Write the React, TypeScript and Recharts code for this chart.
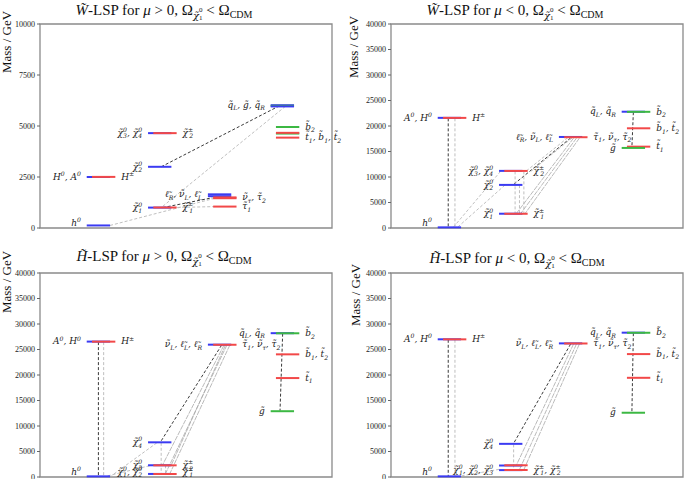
import React from 'react';
import { ComposedChart, Line, XAxis, YAxis, ReferenceArea, Scatter } from 'recharts';

const T = '\u0303';
const CHI = `\u03C7${T}`;
const SL = `\u2113${T}`;
const SNU = `\u03BD${T}`;
const STAU = `\u03C4${T}`;
const SQ = `q${T}`;
const SG = `g${T}`;
const ST = `t${T}`;
const SB = `b${T}`;

type Level = { col: number; s: number; m: number; k: string; l?: string; r?: string };
type Decay = { x1: number; m1: number; x2: number; m2: number; tone: string };

// column starts in the x-domain [0,100]
const COL_X = [16, 37, 57.5, 79];
const SEG = 8;
const SHIFT = 1.8;

const ticks10k = [0, 2500, 5000, 7500, 10000];
const ticks40k = [0, 5000, 10000, 15000, 20000, 25000, 30000, 35000, 40000];

// ---------- W-LSP, mu > 0 ----------
const wPosLevels: Level[] = [
  { col: 0, s: 0, m: 125, k: 'B', l: 'h^0' },
  { col: 0, s: 0, m: 2500, k: 'B', l: 'H^0, A^0' },
  { col: 0, s: 1, m: 2505, k: 'R', r: 'H^\u00B1' },
  { col: 1, s: 0, m: 1000, k: 'B', l: `${CHI}^0_1` },
  { col: 1, s: 1, m: 1005, k: 'R', r: `${CHI}^\u00B1_1` },
  { col: 1, s: 0, m: 3000, k: 'B', l: `${CHI}^0_2` },
  { col: 1, s: 0, m: 4650, k: 'B', l: `${CHI}^0_3, ${CHI}^0_4` },
  { col: 1, s: 1, m: 4650, k: 'R', r: `${CHI}^\u00B1_2` },
  { col: 2, s: 0, m: 1650, k: 'B', l: `${SL}_R, ${SNU}_L, ${SL}_L` },
  { col: 2, s: 0, m: 1560, k: 'B' },
  { col: 2, s: 1, m: 1500, k: 'R', r: `${SNU}_\u03C4, ${STAU}_2` },
  { col: 2, s: 1, m: 1460, k: 'R' },
  { col: 2, s: 1, m: 1050, k: 'R', r: `${STAU}_1` },
  { col: 3, s: 0, m: 6020, k: 'B', l: `${SQ}_L, ${SG}, ${SQ}_R` },
  { col: 3, s: 0, m: 5990, k: 'G' },
  { col: 3, s: 0, m: 5960, k: 'B' },
  { col: 3, s: 1, m: 4950, k: 'G', r: `${SB}_2` },
  { col: 3, s: 1, m: 4630, k: 'G' },
  { col: 3, s: 1, m: 4665, k: 'R' },
  { col: 3, s: 1, m: 4430, k: 'R', r: `${ST}_1, ${SB}_1, ${ST}_2` },
];
const wPosDecays: Decay[] = [
  { x1: 82, m1: 5990, x2: 41.5, m2: 3000, tone: 'dark' },
  { x1: 84, m1: 5960, x2: 41.5, m2: 1000, tone: 'light' },
  { x1: 24, m1: 125, x2: 61, m2: 1500, tone: 'light' },
  { x1: 42, m1: 1000, x2: 59, m2: 1480, tone: 'dark' },
  { x1: 60, m1: 1050, x2: 46.5, m2: 1005, tone: 'light' },
];

// ---------- W-LSP, mu < 0 ----------
const wNegLevels: Level[] = [
  { col: 0, s: 0, m: 125, k: 'B', l: 'h^0' },
  { col: 0, s: 0, m: 21600, k: 'B', l: 'A^0, H^0' },
  { col: 0, s: 1, m: 21590, k: 'R', r: 'H^\u00B1' },
  { col: 1, s: 0, m: 2800, k: 'B', l: `${CHI}^0_1` },
  { col: 1, s: 1, m: 2790, k: 'R', r: `${CHI}^\u00B1_1` },
  { col: 1, s: 0, m: 8450, k: 'B', l: `${CHI}^0_2` },
  { col: 1, s: 0, m: 11200, k: 'B', l: `${CHI}^0_3, ${CHI}^0_4` },
  { col: 1, s: 1, m: 11190, k: 'R', r: `${CHI}^\u00B1_2` },
  { col: 2, s: 0, m: 17850, k: 'B', l: `${SL}_R, ${SNU}_L, ${SL}_L` },
  { col: 2, s: 1, m: 17800, k: 'R', r: `${STAU}_1, ${SNU}_\u03C4, ${STAU}_2` },
  { col: 3, s: 0, m: 22800, k: 'B', l: `${SQ}_L, ${SQ}_R` },
  { col: 3, s: 1, m: 22780, k: 'G', r: `${SB}_2` },
  { col: 3, s: 1, m: 19550, k: 'R', r: `${SB}_1, ${ST}_2` },
  { col: 3, s: 1, m: 15950, k: 'R', r: `${ST}_1` },
  { col: 3, s: 0, m: 15700, k: 'G', l: SG },
];
const wNegDecays: Decay[] = [
  { x1: 19.6, m1: 21500, x2: 19.6, m2: 200, tone: 'dark' },
  { x1: 21.9, m1: 21500, x2: 21.9, m2: 200, tone: 'light' },
  { x1: 37.5, m1: 11100, x2: 21.5, m2: 250, tone: 'light' },
  { x1: 39, m1: 8400, x2: 23, m2: 250, tone: 'light' },
  { x1: 61.5, m1: 17650, x2: 42, m2: 8550, tone: 'dark' },
  { x1: 60.5, m1: 17700, x2: 46.5, m2: 11250, tone: 'light' },
  { x1: 62, m1: 17650, x2: 48, m2: 11150, tone: 'light' },
  { x1: 62.5, m1: 17600, x2: 43, m2: 2900, tone: 'gray' },
  { x1: 63.5, m1: 17600, x2: 44.5, m2: 2900, tone: 'gray' },
  { x1: 64.5, m1: 17600, x2: 46, m2: 2900, tone: 'gray' },
  { x1: 42.5, m1: 11100, x2: 42.5, m2: 2900, tone: 'light' },
  { x1: 44, m1: 8400, x2: 44, m2: 2900, tone: 'light' },
  { x1: 45.5, m1: 11100, x2: 45.5, m2: 2900, tone: 'light' },
  { x1: 83, m1: 22700, x2: 82.5, m2: 15850, tone: 'dark' },
];

// ---------- H-LSP, mu > 0 ----------
const hPosLevels: Level[] = [
  { col: 0, s: 0, m: 125, k: 'B', l: 'h^0' },
  { col: 0, s: 0, m: 26550, k: 'B', l: 'A^0, H^0' },
  { col: 0, s: 1, m: 26540, k: 'R', r: 'H^\u00B1' },
  { col: 1, s: 0, m: 6800, k: 'B', l: `${CHI}^0_4` },
  { col: 1, s: 0, m: 2300, k: 'B', l: `${CHI}^0_3` },
  { col: 1, s: 1, m: 2290, k: 'R', r: `${CHI}^\u00B1_2` },
  { col: 1, s: 0, m: 600, k: 'B', l: `${CHI}^0_1, ${CHI}^0_2` },
  { col: 1, s: 1, m: 590, k: 'R', r: `${CHI}^\u00B1_1` },
  { col: 2, s: 0, m: 25950, k: 'B', l: `${SNU}_L, ${SL}_L, ${SL}_R` },
  { col: 2, s: 1, m: 25930, k: 'R', r: `${STAU}_1, ${SNU}_\u03C4, ${STAU}_2` },
  { col: 3, s: 0, m: 28200, k: 'B', l: `${SQ}_L, ${SQ}_R` },
  { col: 3, s: 1, m: 28180, k: 'G', r: `${SB}_2` },
  { col: 3, s: 1, m: 24050, k: 'R', r: `${SB}_1, ${ST}_2` },
  { col: 3, s: 1, m: 19400, k: 'R', r: `${ST}_1` },
  { col: 3, s: 0, m: 12900, k: 'G', l: SG },
];
const hPosDecays: Decay[] = [
  { x1: 20, m1: 26450, x2: 20, m2: 200, tone: 'dark' },
  { x1: 21.8, m1: 26450, x2: 21.8, m2: 200, tone: 'light' },
  { x1: 40, m1: 6700, x2: 24.5, m2: 250, tone: 'light' },
  { x1: 37.5, m1: 2200, x2: 23, m2: 200, tone: 'light' },
  { x1: 62.2, m1: 25850, x2: 41.3, m2: 6900, tone: 'dark' },
  { x1: 63, m1: 25850, x2: 42, m2: 2400, tone: 'gray' },
  { x1: 64, m1: 25850, x2: 43, m2: 700, tone: 'gray' },
  { x1: 65, m1: 25850, x2: 44.5, m2: 700, tone: 'gray' },
  { x1: 63.5, m1: 25850, x2: 45, m2: 2400, tone: 'gray' },
  { x1: 41.5, m1: 6700, x2: 41.5, m2: 700, tone: 'light' },
  { x1: 43, m1: 2300, x2: 43, m2: 700, tone: 'light' },
  { x1: 83.1, m1: 28100, x2: 82.2, m2: 13000, tone: 'dark' },
];

// ---------- H-LSP, mu < 0 ----------
const hNegLevels: Level[] = [
  { col: 0, s: 0, m: 125, k: 'B', l: 'h^0' },
  { col: 0, s: 0, m: 27000, k: 'B', l: 'A^0, H^0' },
  { col: 0, s: 1, m: 26990, k: 'R', r: 'H^\u00B1' },
  { col: 1, s: 0, m: 6500, k: 'B', l: `${CHI}^0_4` },
  { col: 1, s: 0, m: 2250, k: 'B' },
  { col: 1, s: 1, m: 2300, k: 'R' },
  { col: 1, s: 0, m: 1350, k: 'B', l: `${CHI}^0_1, ${CHI}^0_2, ${CHI}^0_3` },
  { col: 1, s: 1, m: 1370, k: 'R', r: `${CHI}^\u00B1_1, ${CHI}^\u00B1_2` },
  { col: 2, s: 0, m: 26200, k: 'B', l: `${SNU}_L, ${SL}_L, ${SL}_R` },
  { col: 2, s: 1, m: 26180, k: 'R', r: `${STAU}_1, ${SNU}_\u03C4, ${STAU}_2` },
  { col: 3, s: 0, m: 28300, k: 'B', l: `${SQ}_L, ${SQ}_R` },
  { col: 3, s: 1, m: 28280, k: 'G', r: `${SB}_2` },
  { col: 3, s: 1, m: 24100, k: 'R', r: `${SB}_1, ${ST}_2` },
  { col: 3, s: 1, m: 19450, k: 'R', r: `${ST}_1` },
  { col: 3, s: 0, m: 12600, k: 'G', l: SG },
];
const hNegDecays: Decay[] = [
  { x1: 19.6, m1: 26900, x2: 19.6, m2: 200, tone: 'dark' },
  { x1: 21.9, m1: 26900, x2: 21.9, m2: 200, tone: 'light' },
  { x1: 37, m1: 1500, x2: 24, m2: 200, tone: 'light' },
  { x1: 61.5, m1: 26050, x2: 42, m2: 6600, tone: 'dark' },
  { x1: 62.5, m1: 26050, x2: 43, m2: 2400, tone: 'gray' },
  { x1: 63.5, m1: 26050, x2: 44, m2: 1450, tone: 'gray' },
  { x1: 64.5, m1: 26050, x2: 45.5, m2: 1450, tone: 'gray' },
  { x1: 42, m1: 6400, x2: 42, m2: 1450, tone: 'light' },
  { x1: 83, m1: 28200, x2: 82.5, m2: 12700, tone: 'dark' },
];

const PALETTE: Record<string, string> = { B: '#3b3bf2', R: '#f24848', G: '#3cb843' };
const TONES: Record<string, { c: string; d: string; w: number }> = {
  dark: { c: '#3a3a3a', d: '3 2', w: 1 },
  light: { c: '#b8b8b8', d: '3 2', w: 0.9 },
  gray: { c: '#a8a8a8', d: '5 1', w: 0.8 },
};

const SERIF = 'Liberation Serif, DejaVu Serif, serif';
const LABEL_FONT = 'DejaVu Serif, Liberation Serif, serif';

type Part = { t: string; k: 'n' | 'sup' | 'sub'; st?: boolean };
function parse(s: string): Part[] {
  const out: Part[] = [];
  let buf = '';
  const ch = Array.from(s);
  for (let i = 0; i < ch.length; i++) {
    const c = ch[i];
    if (c === '^' || c === '_') {
      if (buf) { out.push({ t: buf, k: 'n' }); buf = ''; }
      let t = ch[++i];
      while (i + 1 < ch.length && /[\u0300-\u036f]/.test(ch[i + 1])) t += ch[++i];
      const k = c === '^' ? 'sup' : 'sub';
      const prev = out[out.length - 1];
      out.push({ t, k, st: k === 'sub' && !!prev && prev.k === 'sup' });
    } else buf += c;
  }
  if (buf) out.push({ t: buf, k: 'n' });
  return out;
}

function Rich({ x, y, text, anchor, fs = 9 }: any) {
  const parts = parse(text);
  let cur = 0;
  return (
    <text x={x} y={y + fs * 0.3} textAnchor={anchor} fontSize={fs} fontFamily={LABEL_FONT} fontStyle="italic" fill="#222">
      {parts.map((p, i) => {
        const target = p.k === 'sup' ? -fs * 0.42 : p.k === 'sub' ? fs * 0.28 : 0;
        const dy = target - cur;
        cur = target;
        return (
          <tspan key={i} dy={dy} dx={p.st ? -fs * 0.42 : undefined} fontSize={p.k === 'n' ? fs : fs * 0.68}>
            {p.t}
          </tspan>
        );
      })}
    </text>
  );
}

function Panel({ left, top, width, height, yw, mt, mr, mb, max, ticks, levels, decays }: any) {
  const labels: any[] = [];
  (levels as Level[]).forEach((lv) => {
    const x0 = COL_X[lv.col] + lv.s * SHIFT;
    if (lv.l) labels.push({ x: x0 - 2, y: lv.m, text: lv.l, anchor: 'end' });
    if (lv.r) labels.push({ x: x0 + SEG + 2, y: lv.m, text: lv.r, anchor: 'start' });
  });
  const bottomPx = height - mb;
  return (
    <div style={{ position: 'absolute', left, top, width, height }}>
      <ComposedChart width={width} height={height} margin={{ top: mt, right: mr, bottom: mb, left: 0 }}>
        <XAxis type="number" dataKey="x" domain={[0, 100]} hide />
        <YAxis
          type="number"
          domain={[0, max]}
          ticks={ticks}
          width={yw}
          axisLine={false}
          tickSize={3}
          tickMargin={2}
          interval={0}
          stroke="#666"
          tick={{ fontSize: 8, fill: '#222', fontFamily: SERIF }}
        />
        <ReferenceArea x1={0} x2={100} y1={0} y2={max} fill="none" stroke="#8a8a8a" strokeWidth={1.3} />
        {(decays as Decay[]).map((d, i) => (
          <Line
            key={'d' + i}
            data={[{ x: d.x1, y: d.m1 }, { x: d.x2, y: d.m2 }]}
            dataKey="y"
            stroke={TONES[d.tone].c}
            strokeWidth={TONES[d.tone].w}
            strokeDasharray={TONES[d.tone].d}
            dot={false}
            activeDot={false}
            isAnimationActive={false}
          />
        ))}
        {(levels as Level[]).map((lv, i) => {
          const x0 = COL_X[lv.col] + lv.s * SHIFT;
          return (
            <Line
              key={'l' + i}
              data={[{ x: x0, y: lv.m }, { x: x0 + SEG, y: lv.m }]}
              dataKey="y"
              stroke={PALETTE[lv.k]}
              strokeWidth={2}
              dot={false}
              activeDot={false}
              isAnimationActive={false}
            />
          );
        })}
        <Scatter
          data={labels}
          dataKey="y"
          isAnimationActive={false}
          shape={(p: any) => (
            <Rich x={p.cx} y={Math.min(p.cy, bottomPx - 5)} text={p.payload.text} anchor={p.payload.anchor} />
          )}
        />
      </ComposedChart>
    </div>
  );
}

function Title({ x, y, lsp, sign }: any) {
  return (
    <text x={x} y={y} textAnchor="middle" fontFamily={SERIF} fontSize={15} fill="#111">
      <tspan fontStyle="italic">{`${lsp}\u0303`}</tspan>
      <tspan>-LSP for </tspan>
      <tspan fontStyle="italic">{'\u03BC'}</tspan>
      <tspan>{` ${sign} 0, \u03A9`}</tspan>
      <tspan fontSize={10} fontStyle="italic" fontFamily={LABEL_FONT} dy={4}>{CHI}</tspan>
      <tspan fontSize={7} dy={-7}>0</tspan>
      <tspan fontSize={7} dx={-3.5} dy={8}>1</tspan>
      <tspan dy={-5}>{' < \u03A9'}</tspan>
      <tspan fontSize={10} dy={3}>CDM</tspan>
    </text>
  );
}

function YLabel({ x, y }: any) {
  return (
    <text x={x} y={y} transform={`rotate(-90 ${x} ${y})`} textAnchor="middle" fontFamily={SERIF} fontSize={13} fill="#111">
      Mass / GeV
    </text>
  );
}

export default function App() {
  return (
    <div style={{ position: 'absolute', left: 0, top: 0, width: 685, height: 479, background: '#fff', overflow: 'hidden' }}>
      <Panel left={0} top={0} width={345} height={240} yw={40} mt={24} mr={13} mb={12} max={10000} ticks={ticks10k} levels={wPosLevels} decays={wPosDecays} />
      <Panel left={345} top={0} width={340} height={240} yw={46} mt={24} mr={2} mb={12} max={40000} ticks={ticks40k} levels={wNegLevels} decays={wNegDecays} />
      <Panel left={0} top={240} width={345} height={239} yw={40} mt={33} mr={13} mb={2} max={40000} ticks={ticks40k} levels={hPosLevels} decays={hPosDecays} />
      <Panel left={345} top={240} width={340} height={239} yw={46} mt={33} mr={2} mb={2} max={40000} ticks={ticks40k} levels={hNegLevels} decays={hNegDecays} />
      <svg width={685} height={479} style={{ position: 'absolute', left: 0, top: 0, pointerEvents: 'none' }}>
        <Title x={164} y={15} lsp="W" sign=">" />
        <Title x={515} y={15} lsp="W" sign="<" />
        <Title x={164} y={261} lsp="H" sign=">" />
        <Title x={517} y={263} lsp="H" sign="<" />
        <YLabel x={11} y={42} />
        <YLabel x={358} y={47} />
        <YLabel x={11} y={282} />
        <YLabel x={360} y={295} />
      </svg>
    </div>
  );
}
